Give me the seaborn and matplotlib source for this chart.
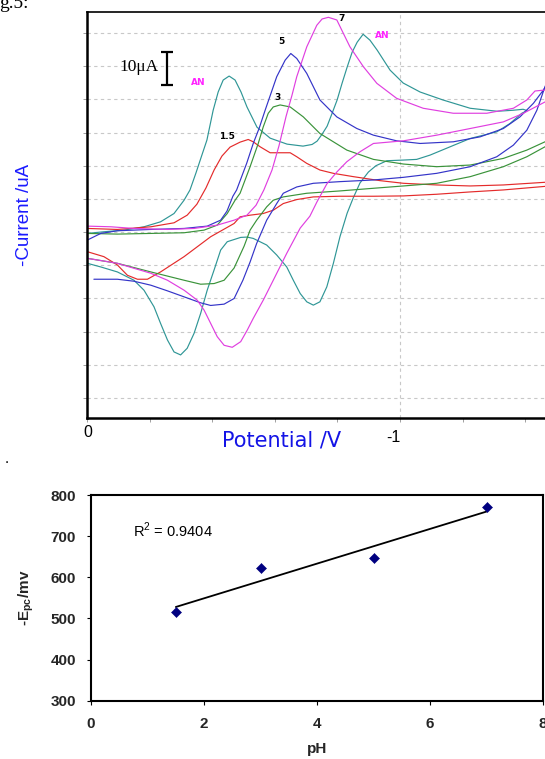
import numpy as np
import pandas as pd
import matplotlib
matplotlib.use('Agg')
import matplotlib.pyplot as plt
import seaborn as sns
from matplotlib.ticker import MultipleLocator

# >> Top panel: cyclic voltammograms, potential (V) vs -current (uA)
# each curve is the forward scan (to negative potential) followed by the reverse scan
E_AN = [-0.001, -0.054, -0.118, -0.182, -0.235, -0.278, -0.310, -0.329, -0.348, -0.367, -0.383, -0.403,
        -0.419, -0.435, -0.454, -0.473, -0.492, -0.511, -0.543, -0.585, -0.639, -0.690, -0.719, -0.735,
        -0.751, -0.767, -0.783, -0.799, -0.815, -0.831, -0.847, -0.863, -0.882, -0.904, -0.927, -0.968,
        -1.010, -1.064, -1.137, -1.224, -1.310, -1.361, -1.393, -1.406,
        -1.389, -1.351, -1.309, -1.224, -1.160, -1.096, -1.053, -1.011, -0.958, -0.923, -0.899, -0.872,
        -0.850, -0.831, -0.808, -0.787, -0.766, -0.744, -0.723, -0.702, -0.681, -0.659, -0.638, -0.606,
        -0.574, -0.531, -0.511, -0.491, -0.448, -0.427, -0.406, -0.384, -0.363, -0.342, -0.320, -0.299,
        -0.278, -0.257, -0.235, -0.214, -0.182, -0.150, -0.097, -0.044, -0.001]
I_AN = [49.6, 50.1, 50.6, 51.6, 53.1, 55.6, 59.6, 62.7, 67.8, 73.2, 77.7, 86.7,
        92.2, 95.8, 97.0, 95.8, 92.2, 87.7, 81.6, 78.3, 76.5, 75.9, 76.4, 77.4,
        79.5, 81.9, 85.8, 89.8, 94.9, 99.7, 104.2, 107.2, 109.6, 107.8, 104.8, 98.8,
        94.9, 92.2, 89.8, 87.3, 86.4, 86.7, 87.0, 86.6,
        85.8, 82.7, 80.2, 78.2, 75.7, 73.2, 71.9, 71.7, 71.5, 70.0, 68.1, 64.8,
        60.2, 55.7, 48.6, 40.6, 33.5, 29.0, 28.0, 29.0, 31.5, 35.5, 39.5, 43.1,
        46.1, 48.1, 48.5, 48.4, 47.1, 44.6, 38.6, 32.5, 25.5, 19.5, 15.0, 13.0,
        13.9, 17.5, 22.5, 27.5, 32.5, 35.5, 38.0, 39.5, 40.6]

E_15 = [-0.001, -0.097, -0.204, -0.278, -0.320, -0.351, -0.380, -0.406, -0.431, -0.457, -0.489, -0.515,
        -0.531, -0.553, -0.585, -0.649, -0.670, -0.702, -0.744, -0.787, -0.851, -0.936, -1.011, -1.117,
        -1.224, -1.330, -1.479,
        -1.479, -1.330, -1.224, -1.117, -1.011, -0.915, -0.808, -0.723, -0.670, -0.627, -0.595, -0.563,
        -0.521, -0.489, -0.470, -0.395, -0.310, -0.235, -0.193, -0.161, -0.129, -0.097, -0.054, -0.001]
I_15 = [51.1, 50.8, 51.6, 52.8, 55.1, 58.4, 63.3, 68.7, 72.9, 75.6, 77.1, 77.9,
        77.2, 75.7, 73.9, 73.9, 72.7, 70.7, 68.7, 67.7, 66.7, 65.5, 64.7, 64.2,
        63.9, 64.2, 65.1,
        63.9, 62.7, 62.1, 61.4, 60.9, 60.8, 60.8, 60.6, 59.8, 58.6, 56.6, 55.6,
        55.1, 54.6, 52.6, 48.6, 42.6, 38.0, 35.8, 35.8, 37.0, 40.1, 42.6, 44.1]

E_3 = [-0.001, -0.097, -0.204, -0.310, -0.374, -0.416, -0.448, -0.473, -0.489, -0.521, -0.547, -0.563,
       -0.579, -0.595, -0.617, -0.649, -0.691, -0.744, -0.830, -0.915, -1.011, -1.117, -1.224, -1.330,
       -1.405, -1.463, -1.479,
       -1.479, -1.463, -1.405, -1.330, -1.224, -1.117, -1.011, -0.915, -0.808, -0.702, -0.627, -0.595,
       -0.574, -0.542, -0.521, -0.502, -0.470, -0.438, -0.406, -0.363, -0.310, -0.204, -0.097, -0.001]
I_3 = [49.6, 49.4, 49.6, 49.8, 50.6, 52.1, 55.6, 59.6, 61.7, 69.7, 76.7, 81.7,
       85.8, 87.7, 88.3, 87.7, 84.7, 79.7, 74.7, 71.9, 70.5, 69.7, 70.2, 72.2,
       74.7, 77.2, 77.7,
       76.2, 75.7, 72.7, 69.7, 66.7, 64.7, 63.9, 63.2, 62.4, 61.7, 60.6, 59.6,
       57.6, 53.6, 50.6, 45.8, 39.2, 35.5, 34.5, 34.3, 35.5, 38.0, 40.6, 42.1]

E_5 = [-0.001, -0.044, -0.097, -0.204, -0.310, -0.384, -0.427, -0.447, -0.466, -0.478, -0.510, -0.531,
       -0.550, -0.569, -0.606, -0.633, -0.651, -0.670, -0.702, -0.744, -0.798, -0.862, -0.915, -0.989,
       -1.064, -1.170, -1.256, -1.330, -1.383, -1.426, -1.458, -1.479,
       -1.479, -1.463, -1.437, -1.405, -1.362, -1.309, -1.224, -1.117, -1.011, -0.915, -0.808, -0.723,
       -0.670, -0.627, -0.606, -0.574, -0.542, -0.521, -0.498, -0.470, -0.438, -0.395, -0.363, -0.310,
       -0.257, -0.204, -0.150, -0.097, -0.022]
I_5 = [47.6, 49.6, 50.4, 50.8, 51.1, 51.8, 53.6, 56.3, 60.8, 62.7, 70.7, 76.7,
       81.3, 86.7, 96.8, 101.8, 103.8, 102.3, 97.8, 89.8, 84.7, 81.2, 79.2, 77.5,
       76.7, 77.2, 78.7, 81.2, 84.7, 88.8, 92.8, 95.8,
       97.3, 93.8, 86.7, 80.7, 76.2, 72.7, 69.7, 67.7, 66.5, 65.7, 65.2, 64.7,
       63.6, 61.7, 58.6, 53.6, 46.6, 41.0, 35.5, 30.0, 28.3, 27.9, 28.7, 30.5,
       32.3, 34.0, 35.2, 35.8, 35.8]

E_7 = [-0.001, -0.076, -0.150, -0.257, -0.342, -0.416, -0.470, -0.511, -0.540, -0.565, -0.591, -0.613,
       -0.636, -0.655, -0.670, -0.702, -0.734, -0.751, -0.771, -0.798, -0.814, -0.840, -0.883, -0.926,
       -0.989, -1.074, -1.170, -1.277, -1.362, -1.405, -1.431, -1.463, -1.479,
       -1.479, -1.463, -1.394, -1.330, -1.224, -1.117, -1.011, -0.915, -0.872, -0.830, -0.798, -0.766,
       -0.734, -0.712, -0.681, -0.638, -0.595, -0.563, -0.531, -0.512, -0.491, -0.464, -0.438, -0.416,
       -0.395, -0.374, -0.352, -0.310, -0.257, -0.204, -0.150, -0.097, -0.001]
I_7 = [51.8, 51.6, 51.1, 50.8, 51.1, 52.1, 53.6, 55.1, 58.1, 62.7, 68.7, 75.9,
       84.9, 91.3, 96.8, 105.8, 112.3, 114.2, 114.7, 113.9, 110.8, 105.8, 99.8, 94.8,
       90.3, 87.3, 85.8, 85.8, 87.3, 89.8, 92.5, 92.8, 92.5,
       89.8, 89.2, 85.8, 83.2, 81.2, 79.2, 77.5, 76.7, 74.2, 71.2, 68.1, 64.5,
       59.0, 54.8, 51.2, 43.6, 35.5, 29.5, 24.0, 20.5, 17.0, 15.3, 15.9, 18.5,
       22.5, 26.5, 29.5, 32.5, 35.5, 37.6, 39.1, 40.6, 42.1]

curve_names = ['AN', '1.5', '3', '5', '7']
curve_colors = ['#2f9696', '#e42b2b', '#3a933a', '#3434c8', '#e03fe0']

# peak labels
label_text = ['AN', 'AN', '1.5', '3', '5', '7']
label_E = [-0.356, -0.942, -0.446, -0.608, -0.620, -0.814]
label_I = [95.0, 109.3, 78.9, 90.5, 107.3, 114.4]

scale_bar_ua = 10

# >> Bottom panel: cathodic peak potential vs pH
ph = [1.5, 3, 5, 7]
epc = [516, 622, 646, 770]
r_squared = '0.9404'

sns.set_theme(style='white')
plt.rcParams['font.family'] = ['Liberation Sans', 'DejaVu Sans']
plt.rcParams['mathtext.fontset'] = 'custom'
plt.rcParams['mathtext.rm'] = 'Liberation Sans'
plt.rcParams['mathtext.bf'] = 'Liberation Sans:bold'

fig = plt.figure(figsize=(5.45, 7.59), dpi=100)
ax1 = fig.add_axes([87 / 545, 1 - 418 / 759, 458 / 545, 406 / 759])
ax2 = fig.add_axes([91.1 / 545, 1 - 700.7 / 759, 451.9 / 545, 205.7 / 759])

# --- voltammograms
cv = pd.concat([pd.DataFrame({'E': e, 'I': i, 'curve': n})
                for n, e, i in zip(curve_names, [E_AN, E_15, E_3, E_5, E_7], [I_AN, I_15, I_3, I_5, I_7])],
               ignore_index=True)
sns.lineplot(data=cv, x='E', y='I', hue='curve', hue_order=curve_names,
             palette=dict(zip(curve_names, curve_colors)), sort=False, estimator=None,
             linewidth=0.85, legend=False, ax=ax1)

ax1.set_xlim(0, -1.463)
ax1.set_ylim(-6.0, 116.3)
ax1.set_xlabel('')
ax1.set_ylabel('')
ax1.set_yticks(np.arange(0, 111, 10))
ax1.set_yticklabels([])
ax1.set_xticks([0, -1])
ax1.set_xticklabels([])
ax1.xaxis.set_minor_locator(MultipleLocator(0.2))
ax1.set_axisbelow(True)
ax1.grid(True, which='major', color='#c8c8c8', linestyle=(0, (3, 3)), linewidth=0.8)
ax1.tick_params(axis='both', which='both', direction='out', length=3, width=0.6,
                color='#909090', bottom=True, left=True)
ax1.spines['right'].set_visible(False)
for side, lw in [('left', 1.8), ('bottom', 1.8), ('top', 1.2)]:
    ax1.spines[side].set_color('black')
    ax1.spines[side].set_linewidth(lw)

for t, e, i in zip(label_text, label_E, label_I):
    ax1.text(e, i, t, ha='center', va='center', fontsize=6.5, fontweight='bold',
             family='DejaVu Sans', color='#ff22ff' if t == 'AN' else 'black')

# 10 uA scale bar
ax1.errorbar(-0.257, 99.3, yerr=scale_bar_ua / 2, fmt='none', ecolor='black',
             elinewidth=1.6, capsize=4.5, capthick=1.6)
ax1.text(-0.228, 99.8, '10\u03bcA', ha='right', va='center', fontsize=12.5,
         family='Liberation Serif', color='black')

ax1.annotate('0', xy=(0, 0), xycoords=('data', 'axes fraction'), xytext=(1.3, -14.7),
             textcoords='offset pixels', ha='center', va='center', fontsize=11.5, color='black')
ax1.annotate('-1', xy=(-1, 0), xycoords=('data', 'axes fraction'), xytext=(-7, -20),
             textcoords='offset pixels', ha='center', va='center', fontsize=11.5, color='black')

fig.text(24.3 / 545, 1 - 215 / 759, '-Current /uA', rotation=90, ha='center', va='center',
         fontsize=13.5, color='#1a1aff')
fig.text(281.5 / 545, 1 - 440.7 / 759, 'Potential /V', ha='center', va='center',
         fontsize=15, family='DejaVu Sans', color='#1414e6')

fig.text(-0.002, 1 - 7.5 / 759, 'g.5:', ha='left', va='baseline', fontsize=14,
         family='Liberation Serif', color='black')
fig.text(7 / 545, 1 - 463 / 759, '.', ha='center', va='baseline', fontsize=11, color='black')

# --- Epc vs pH with linear trend
sns.regplot(x=np.array(ph), y=np.array(epc), ax=ax2, scatter=False, ci=None, truncate=True,
            color='black', line_kws={'linewidth': 1.3, 'zorder': 2})
sns.scatterplot(x=ph, y=epc, ax=ax2, marker='D', s=26, color='#000080',
                edgecolor='#000080', linewidth=0.4, zorder=3)
ax2.set_xlim(0, 8)
ax2.set_ylim(300, 800)
ax2.set_xticks([0, 2, 4, 6, 8])
ax2.set_yticks(np.arange(300, 801, 100))
ax2.tick_params(axis='both', direction='out', length=3, width=0.8, color='black',
                bottom=True, left=True, labelsize=11)
ax2.tick_params(axis='x', pad=9)
ax2.tick_params(axis='y', pad=8)
for lab in ax2.get_xticklabels() + ax2.get_yticklabels():
    lab.set_fontweight('bold')
for side in ['left', 'right', 'top', 'bottom']:
    ax2.spines[side].set_color('black')
    ax2.spines[side].set_linewidth(1.5)
ax2.set_xlabel('pH', fontsize=11, fontweight='bold', labelpad=8)
ax2.set_ylabel(r'-E$_{\mathbf{pc}}$/mv', fontsize=11, fontweight='bold', labelpad=10)
ax2.text(0.74, 715, 'R$^2$ = ' + r_squared, ha='left', va='center', fontsize=10.5, color='black')

fig.savefig('out.png', dpi=100)
